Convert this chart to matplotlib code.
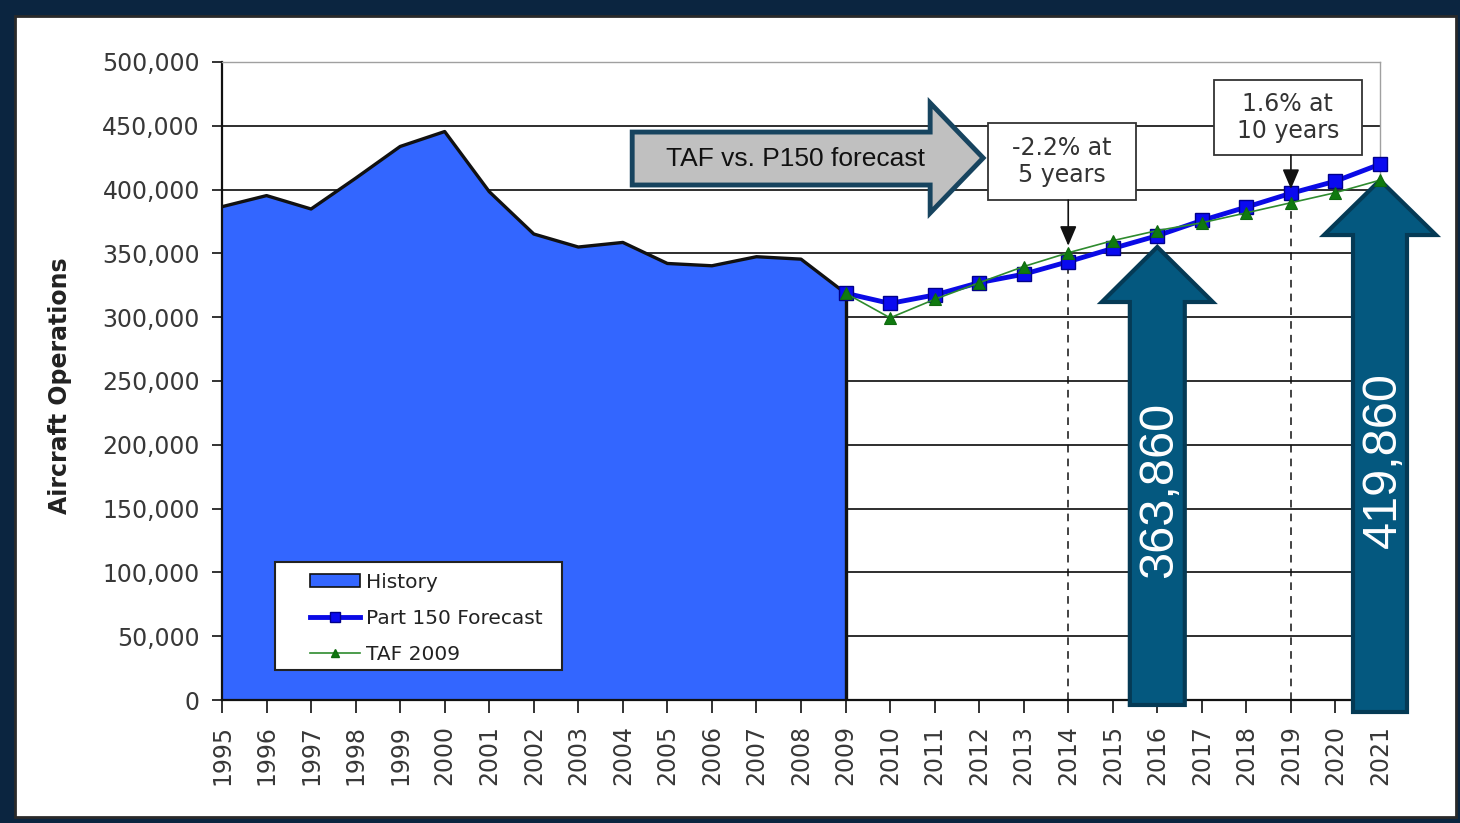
import matplotlib
matplotlib.use("Agg")
import matplotlib.pyplot as plt
from matplotlib.patches import Rectangle, Polygon, Patch
from matplotlib.lines import Line2D
from matplotlib.ticker import FuncFormatter

# ---------------- data ----------------
years_all = list(range(1995, 2022))
years_hist = list(range(1995, 2010))
history = [386600, 395300, 384800, 408900, 433800, 445500, 398400, 365200,
           355000, 358600, 342100, 340300, 347400, 345500, 318800]
years_fc = list(range(2009, 2022))
part150 = [318800, 310800, 317400, 327100, 333700, 343500, 353900, 363860,
           375800, 386300, 397100, 406600, 419860]
taf2009 = [318800, 299500, 314000, 327000, 339700, 350500, 360000, 367900,
           374000, 381800, 389700, 397600, 407400]
legend_labels = ["History", "Part 150 Forecast", "TAF 2009"]
note5 = "-2.2% at\n5 years"
note10 = "1.6% at\n10 years"
arrow_text = "TAF vs. P150 forecast"
y_label = "Aircraft Operations"

W, H = 1460, 823
fig = plt.figure(figsize=(W / 100, H / 100), dpi=100)
fig.patch.set_facecolor('#0b2540')
panel = Rectangle((15 / W, 1 - 817 / H), (1456 - 15) / W, (817 - 16) / H,
                  transform=fig.transFigure, facecolor='white',
                  edgecolor='#2a2a2a', lw=2, zorder=-1)
fig.patches.append(panel)

ax = fig.add_axes([222 / W, 1 - 700 / H, 1158 / W, 638 / H])
ax.set_facecolor('white')
ax.set_xlim(1995, 2021)
ax.set_ylim(0, 500000)
ax.set_axisbelow(True)

# ticks
ax.set_xticks(years_all)
ax.set_xticklabels([str(y) for y in years_all], rotation=90)
ax.set_yticks(range(0, 500001, 50000))
ax.yaxis.set_major_formatter(FuncFormatter(lambda v, p: f"{int(v):,}"))
ax.tick_params(axis='y', length=7, width=1.2, pad=9, labelsize=17,
               labelcolor='#383838', color='#111111')
ax.tick_params(axis='x', length=9, width=1.2, pad=9, labelsize=17,
               labelcolor='#383838', color='#111111')

ax.yaxis.grid(True, color='#1e1e1e', lw=1.3)
ax.get_ygridlines()[-1].set_visible(False)

for s in ['left', 'bottom']:
    ax.spines[s].set_color('#111111')
    ax.spines[s].set_linewidth(1.6)
for s in ['top', 'right']:
    ax.spines[s].set_color('#a0a0a0')
    ax.spines[s].set_linewidth(1.0)

ax.set_ylabel(y_label, fontsize=17, fontweight='bold', color='#222222')
ax.yaxis.set_label_coords(-0.1295, 0.492)

# history area
hist_color = '#3366FF'
ax.fill_between(years_hist, history, 0, facecolor=hist_color,
                edgecolor='none', zorder=2)
ax.plot(years_hist, history, color='#111111', lw=2.4, zorder=3,
        solid_joinstyle='round')
ax.plot([years_hist[-1], years_hist[-1]], [0, history[-1]],
        color='#111111', lw=2.4, zorder=3)

# dashed guides
ax.plot([2014, 2014], [0, part150[years_fc.index(2014)]], color='#111111',
        lw=1.1, ls=(0, (5, 4)), zorder=3)
ax.plot([2019, 2019], [0, part150[years_fc.index(2019)]], color='#111111',
        lw=1.1, ls=(0, (5, 4)), zorder=3)

# big vertical arrows
def vert_arrow(xc, tip, base, bottom, hw_head, hw_body):
    pts = [(xc - hw_body, bottom), (xc - hw_body, base), (xc - hw_head, base),
           (xc, tip), (xc + hw_head, base), (xc + hw_body, base),
           (xc + hw_body, bottom)]
    p = Polygon(pts, closed=True, facecolor='#04587F', edgecolor='#053A55',
                lw=3, zorder=4.5, clip_on=False, joinstyle='miter')
    ax.add_patch(p)

vert_arrow(2016, part150[years_fc.index(2016)] - 8800, 311900, -3900, 1.246, 0.617)
vert_arrow(2021, taf2009[-1], 364400, -9400, 1.257, 0.606)

ax.text(2016.06, 164600, f"{part150[years_fc.index(2016)]:,}", rotation=90,
        color='white', fontsize=35, family='Liberation Sans',
        ha='center', va='center', zorder=8, clip_on=False)
ax.text(2021.07, 188100, f"{part150[-1]:,}", rotation=90,
        color='white', fontsize=35, family='Liberation Sans',
        ha='center', va='center', zorder=8, clip_on=False)

# forecast lines
ax.plot(years_fc, part150, color='#0a0ae6', lw=3.5, marker='s',
        markersize=9.5, markerfacecolor='#0a0af0', markeredgecolor='#00008B',
        markeredgewidth=1.0, zorder=5, clip_on=False)
ax.plot(years_fc, taf2009, color='#2e8b2e', lw=1.2, marker='^',
        markersize=8.5, markerfacecolor='#0f7a0f', markeredgecolor='#0f6a0f',
        markeredgewidth=0.8, zorder=6, clip_on=False)

# TAF vs P150 arrow
taf_pts = [(2004.21, 445100), (2010.90, 445100), (2010.90, 467900),
           (2012.09, 424800), (2010.90, 381700), (2010.90, 403600),
           (2004.21, 403600)]
ax.add_patch(Polygon(taf_pts, closed=True, facecolor='#C0C0C0',
                     edgecolor='#17445F', lw=3.5, zorder=7, clip_on=False,
                     joinstyle='miter'))
ax.text(2007.87, 424000, arrow_text, fontsize=19, family='Liberation Sans',
        color='#111111', ha='center', va='center', zorder=8)

# annotation boxes
ax.add_patch(Rectangle((2012.20, 391800), 3.32, 60400, facecolor='white',
                       edgecolor='#333333', lw=1.3, zorder=7, clip_on=False))
ax.text(2013.86, 422000, note5, fontsize=17, color='#333333', ha='center',
        va='center', linespacing=1.2, zorder=8)
ax.add_patch(Rectangle((2017.27, 427100), 3.33, 58800, facecolor='white',
                       edgecolor='#333333', lw=1.3, zorder=7, clip_on=False))
ax.text(2018.93, 456500, note10, fontsize=17, color='#333333', ha='center',
        va='center', linespacing=1.2, zorder=8)

arrow_kw = dict(arrowstyle='-|>,head_width=0.32,head_length=0.75',
                color='#111111', lw=1.2, shrinkA=0, shrinkB=0,
                mutation_scale=16)
ax.annotate('', xy=(2014, 356000), xytext=(2014, 391800),
            arrowprops=arrow_kw, zorder=7)
ax.annotate('', xy=(2019, 400500), xytext=(2019, 427100),
            arrowprops=arrow_kw, zorder=7)

# legend
ax.add_patch(Rectangle((0.0458, 0.047), 0.248, 0.169, transform=ax.transAxes,
                       facecolor='white', edgecolor='#222222', lw=1.5,
                       zorder=8))
handles = [Patch(facecolor=hist_color, edgecolor='#111111', lw=1.2),
           Line2D([], [], color='#0a0ae6', lw=3.5, marker='s', markersize=7,
                  markerfacecolor='#0a0af0', markeredgecolor='#00008B'),
           Line2D([], [], color='#2e8b2e', lw=1.2, marker='^', markersize=6,
                  markerfacecolor='#0f7a0f', markeredgecolor='#0f6a0f')]
leg = ax.legend(handles, legend_labels, loc='upper left',
                bbox_to_anchor=(0.076, 0.1992), frameon=False, borderpad=0,
                borderaxespad=0, handlelength=2.5, handletextpad=0.3,
                labelspacing=0.85, fontsize=14.5, handleheight=0.6)
leg.set_zorder(9)
for t in leg.get_texts():
    t.set_color('#222222')

fig.savefig('out.png', dpi=100, facecolor=fig.get_facecolor())
